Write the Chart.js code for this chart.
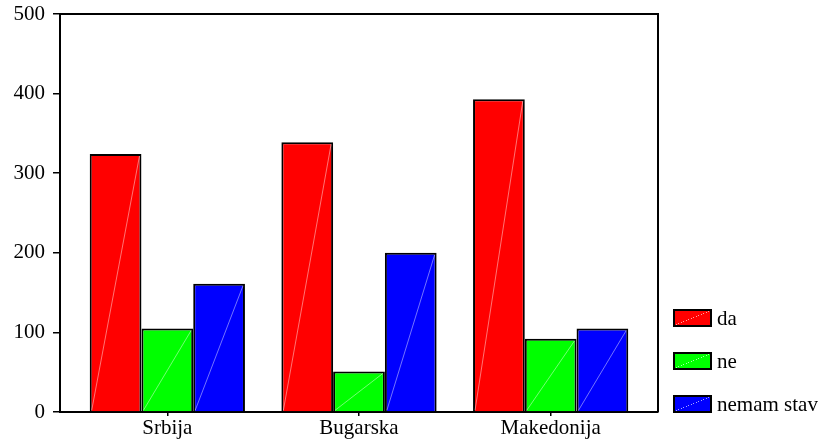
<!DOCTYPE html>
<html>
<head>
<meta charset="utf-8">
<script src="https://cdn.jsdelivr.net/npm/chart.js@4/dist/chart.umd.min.js"></script>
<style>
  body { margin: 0; background: #fff; }
  #wrap { position: relative; width: 821px; height: 441px; }
  #legend { position: absolute; left: 673px; top: 309px; font-family: "Liberation Serif", serif; font-size: 21px; color: #000; }
  .item { display: flex; align-items: center; height: 18px; margin-bottom: 25px; }
  .box { width: 35px; height: 14px; border: 2px solid #000; margin-right: 5px; }
</style>
</head>
<body>
<div id="wrap">
  <canvas id="chart" width="821" height="441"></canvas>
  <div id="legend"></div>
</div>
<script>
const categories = ["Srbija", "Bugarska", "Makedonija"];
const da = [324, 339, 393];
const ne = [105, 51, 92];
const nemamStav = [161, 200, 105];
const yTicks = [0, 100, 200, 300, 400, 500];

const serif = { family: "Liberation Serif", size: 21 };

// faint diagonal line inside every bar, like the original fill pattern
const diagonal = {
  id: "diagonal",
  afterDatasetsDraw(chart) {
    const ctx = chart.ctx;
    ctx.save();
    ctx.strokeStyle = "rgba(255,255,255,0.45)";
    ctx.lineWidth = 1;
    chart.data.datasets.forEach((ds, i) => {
      chart.getDatasetMeta(i).data.forEach((bar) => {
        const l = bar.x - bar.width / 2 + 2;
        const r = bar.x + bar.width / 2 - 2;
        ctx.beginPath();
        ctx.moveTo(l, bar.base - 1);
        ctx.lineTo(r, bar.y + 2);
        ctx.stroke();
      });
    });
    ctx.restore();
  },
};

// top and right edges of the plot frame
const frame = {
  id: "frame",
  afterDraw(chart) {
    const { ctx, chartArea: a } = chart;
    ctx.save();
    ctx.strokeStyle = "#000";
    ctx.lineWidth = 2;
    ctx.beginPath();
    ctx.moveTo(a.left, a.top);
    ctx.lineTo(a.right, a.top);
    ctx.lineTo(a.right, a.bottom);
    ctx.stroke();
    ctx.restore();
  },
};

const toPoints = (arr) => arr.map((v, i) => ({ x: i, y: v }));

const chart = new Chart(document.getElementById("chart"), {
  type: "bar",
  data: {
    datasets: [
      { label: "da", data: toPoints(da), backgroundColor: "#ff0000" },
      { label: "ne", data: toPoints(ne), backgroundColor: "#00ff00" },
      { label: "nemam stav", data: toPoints(nemamStav), backgroundColor: "#0000ff" },
    ],
  },
  options: {
    responsive: false,
    animation: false,
    layout: { padding: { top: 14, right: 163, left: 0, bottom: 0 } },
    datasets: {
      bar: {
        borderColor: "#000",
        borderWidth: 2,
        categoryPercentage: 0.81,
        barPercentage: 1,
      },
    },
    plugins: { legend: { display: false }, tooltip: { enabled: false } },
    scales: {
      x: {
        type: "linear",
        min: -0.56,
        max: 2.56,
        offset: false,
        afterBuildTicks: (s) => {
          s.ticks = categories.map((c, i) => ({ value: i }));
        },
        afterFit: (s) => {
          s.height = 29;
          s.paddingLeft = 0;
          s.paddingRight = 0;
        },
        grid: { drawOnChartArea: false, offset: false, tickLength: 4, color: "#000", lineWidth: 1.5 },
        border: { color: "#000", width: 2 },
        ticks: {
          callback: (v) => categories[v],
          font: serif,
          color: "#000",
          padding: 0,
          autoSkip: false,
          maxRotation: 0,
        },
      },
      y: {
        min: 0,
        max: 500,
        afterBuildTicks: (s) => {
          s.ticks = yTicks.map((v) => ({ value: v }));
        },
        afterFit: (s) => {
          s.width = 60;
          s.paddingTop = 0;
          s.paddingBottom = 0;
        },
        grid: { drawOnChartArea: false, tickLength: 7, color: "#000", lineWidth: 1.5 },
        border: { color: "#000", width: 2 },
        ticks: { font: serif, color: "#000", padding: 8 },
      },
    },
  },
  plugins: [diagonal, frame],
});

// legend built from the chart's datasets
const legend = document.getElementById("legend");
chart.data.datasets.forEach((ds) => {
  const item = document.createElement("div");
  item.className = "item";
  item.innerHTML = `<span class="box" style="background:linear-gradient(to bottom right, ${ds.backgroundColor} 49%, rgba(255,255,255,0.5) 50%, ${ds.backgroundColor} 51%)"></span><span>${ds.label}</span>`;
  legend.appendChild(item);
});
</script>
</body>
</html>
